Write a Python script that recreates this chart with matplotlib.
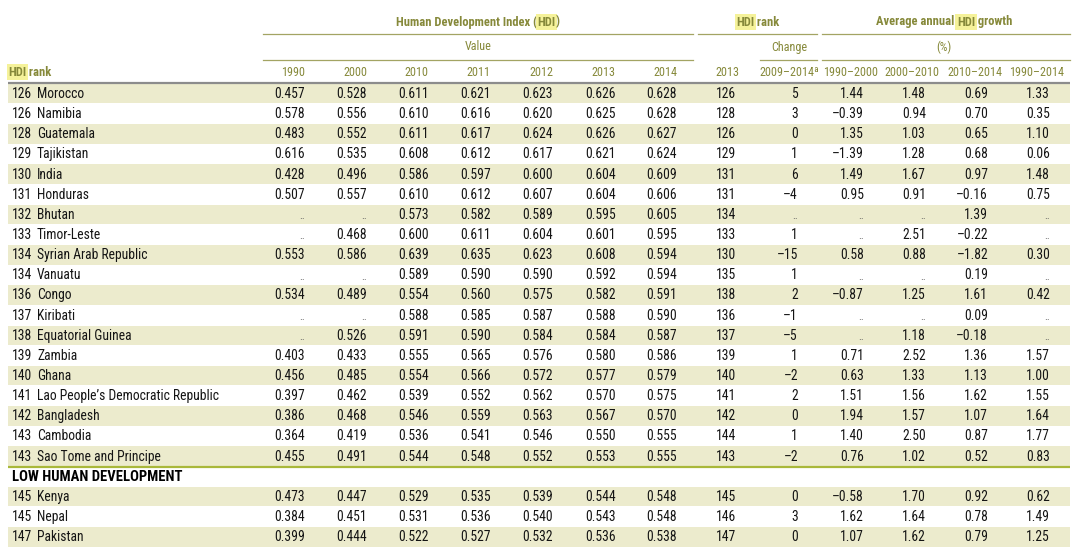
import matplotlib
matplotlib.use('Agg')
import matplotlib.pyplot as plt
from matplotlib import font_manager as fm
from matplotlib.patches import Rectangle

# ---- data ----
ranks = [126, 126, 128, 129, 130, 131, 132, 133, 134, 134, 136, 137, 138, 139, 140,
         141, 142, 143, 143, 145, 145, 147]
countries = ['Morocco', 'Namibia', 'Guatemala', 'Tajikistan', 'India', 'Honduras', 'Bhutan',
             'Timor-Leste', 'Syrian Arab Republic', 'Vanuatu', 'Congo', 'Kiribati',
             'Equatorial Guinea', 'Zambia', 'Ghana', "Lao People\u2019s Democratic Republic",
             'Bangladesh', 'Cambodia', 'Sao Tome and Principe', 'Kenya', 'Nepal', 'Pakistan']
hdi_1990 = [0.457, 0.578, 0.483, 0.616, 0.428, 0.507, None, None, 0.553, None, 0.534, None,
            None, 0.403, 0.456, 0.397, 0.386, 0.364, 0.455, 0.473, 0.384, 0.399]
hdi_2000 = [0.528, 0.556, 0.552, 0.535, 0.496, 0.557, None, 0.468, 0.586, None, 0.489, None,
            0.526, 0.433, 0.485, 0.462, 0.468, 0.419, 0.491, 0.447, 0.451, 0.444]
hdi_2010 = [0.611, 0.610, 0.611, 0.608, 0.586, 0.610, 0.573, 0.600, 0.639, 0.589, 0.554, 0.588,
            0.591, 0.555, 0.554, 0.539, 0.546, 0.536, 0.544, 0.529, 0.531, 0.522]
hdi_2011 = [0.621, 0.616, 0.617, 0.612, 0.597, 0.612, 0.582, 0.611, 0.635, 0.590, 0.560, 0.585,
            0.590, 0.565, 0.566, 0.552, 0.559, 0.541, 0.548, 0.535, 0.536, 0.527]
hdi_2012 = [0.623, 0.620, 0.624, 0.617, 0.600, 0.607, 0.589, 0.604, 0.623, 0.590, 0.575, 0.587,
            0.584, 0.576, 0.572, 0.562, 0.563, 0.546, 0.552, 0.539, 0.540, 0.532]
hdi_2013 = [0.626, 0.625, 0.626, 0.621, 0.604, 0.604, 0.595, 0.601, 0.608, 0.592, 0.582, 0.588,
            0.584, 0.580, 0.577, 0.570, 0.567, 0.550, 0.553, 0.544, 0.543, 0.536]
hdi_2014 = [0.628, 0.628, 0.627, 0.624, 0.609, 0.606, 0.605, 0.595, 0.594, 0.594, 0.591, 0.590,
            0.587, 0.586, 0.579, 0.575, 0.570, 0.555, 0.555, 0.548, 0.548, 0.538]
rank_2013 = [126, 128, 126, 129, 131, 131, 134, 133, 130, 135, 138, 136, 137, 139, 140, 141,
             142, 144, 143, 145, 146, 147]
rank_change = [5, 3, 0, 1, 6, -4, None, 1, -15, 1, 2, -1, -5, 1, -2, 2, 0, 1, -2, 0, 3, 0]
growth_90_00 = [1.44, -0.39, 1.35, -1.39, 1.49, 0.95, None, None, 0.58, None, -0.87, None,
                None, 0.71, 0.63, 1.51, 1.94, 1.40, 0.76, -0.58, 1.62, 1.07]
growth_00_10 = [1.48, 0.94, 1.03, 1.28, 1.67, 0.91, None, 2.51, 0.88, None, 1.25, None,
                1.18, 2.52, 1.33, 1.56, 1.57, 2.50, 1.02, 1.70, 1.64, 1.62]
growth_10_14 = [0.69, 0.70, 0.65, 0.68, 0.97, -0.16, 1.39, -0.22, -1.82, 0.19, 1.61, 0.09,
                -0.18, 1.36, 1.13, 1.62, 1.07, 0.87, 0.52, 0.92, 0.78, 0.79]
growth_90_14 = [1.33, 0.35, 1.10, 0.06, 1.48, 0.75, None, None, 0.30, None, 0.42, None,
                None, 1.57, 1.00, 1.55, 1.64, 1.77, 0.83, 0.62, 1.49, 1.25]
col_labels = ['1990', '2000', '2010', '2011', '2012', '2013', '2014', '2013',
              '2009\u20132014\u00aa', '1990\u20132000', '2000\u20132010', '2010\u20132014',
              '1990\u20132014']
section_label = 'LOW HUMAN DEVELOPMENT'
n_first = 19  # rows before the section heading

# ---- condensed font: first one installed ----
names = {e.name for e in fm.fontManager.ttflist}
fam = 'Liberation Sans'
for n in ['Nimbus Sans Narrow', 'Roboto Condensed', 'PT Sans Narrow', 'Fira Sans Condensed',
          'IBM Plex Sans Condensed', 'Barlow Semi Condensed', 'Archivo Narrow']:
    if n in names:
        fam = n
        break
plt.rcParams['font.family'] = [fam, 'DejaVu Sans']
fs = 9.8
hfs = 8.7  # header size

# ---- layout ----
W, H = 1072, 551
olive = '#86893a'
hl = '#f5f29a'
band = '#ecebcd'
dark = '#141414'
data_right = [305, 367, 429, 491, 553, 616, 677, 736, 798, 864, 926, 988, 1050]
head_center = [293, 355, 416, 478, 541, 603, 665, 727, 789, 851, 912, 975, 1037]
y0, dy = 94, 20.14

fig = plt.figure(figsize=(W / 100, H / 100), dpi=100)
ax = fig.add_axes([0, 0, 1, 1])
ax.set_xlim(0, W)
ax.set_ylim(H, 0)
ax.axis('off')
renderer = fig.canvas.get_renderer()


def rich(x, y, parts, ha='center', size=hfs + 0.3, weight='bold'):
    # parts: list of (text, highlighted)
    objs = []
    for txt, h in parts:
        kw = {}
        if h:
            kw['bbox'] = dict(boxstyle='square,pad=0.12', fc=hl, ec='none')
        t = ax.text(0, y, txt, ha='left', va='center', color=olive, fontsize=size,
                    fontweight=weight, **kw)
        objs.append(t)
    widths = [t.get_window_extent(renderer).width for t in objs]
    total = sum(widths)
    cur = x - total / 2 if ha == 'center' else x
    for t, w in zip(objs, widths):
        t.set_x(cur)
        cur += w


def fmt(v, nd):
    s = f'{v:.{nd}f}' if nd else str(v)
    return s.replace('-', '\u2013')


# group headers
rich(478, 22, [('Human Development Index (', False), ('HDI', True), (')', False)])
rich(758, 22, [('HDI', True), (' rank', False)])
rich(944, 22, [('Average annual ', False), ('HDI', True), (' growth', False)])
rich(8, 72, [('HDI', True), (' rank', False)], ha='left')
rule = '#a3a463'
for xa, xb in [(263, 693), (698, 817), (822, 1070)]:
    ax.plot([xa, xb], [34, 34], color=rule, lw=0.9)
for xa, xb in [(263, 693), (760, 817), (822, 1070)]:
    ax.plot([xa, xb], [60, 60], color=rule, lw=0.9)
ax.text(478, 47, 'Value', ha='center', va='center', color=olive, fontsize=hfs)
ax.text(789, 47, 'Change', ha='center', va='center', color=olive, fontsize=hfs)
ax.text(944, 47, '(%)', ha='center', va='center', color=olive, fontsize=hfs)
for cx, lab in zip(head_center, col_labels):
    ax.text(cx, 72, lab, ha='center', va='center', color=olive, fontsize=hfs)

# body
columns = [(hdi_1990, 3), (hdi_2000, 3), (hdi_2010, 3), (hdi_2011, 3), (hdi_2012, 3),
           (hdi_2013, 3), (hdi_2014, 3), (rank_2013, 0), (rank_change, 0),
           (growth_90_00, 2), (growth_00_10, 2), (growth_10_14, 2), (growth_90_14, 2)]
for i in range(len(countries)):
    slot = i if i < n_first else i + 1
    yc = y0 + slot * dy
    shaded = (i % 2 == 0) if i < n_first else ((i - n_first) % 2 == 0)
    if shaded:
        ax.add_patch(Rectangle((8, yc - dy / 2), 1062, dy - 0.6, fc=band, ec='none', zorder=0))
    ax.text(12, yc, str(ranks[i]), ha='left', va='center', color=dark, fontsize=fs)
    ax.text(37, yc, countries[i], ha='left', va='center', color=dark, fontsize=fs)
    for (vals, nd), xr in zip(columns, data_right):
        v = vals[i]
        if v is None:
            ax.text(xr, yc + 1.5, '..', ha='right', va='center', color='#555555',
                    fontsize=fs - 2)
        else:
            ax.text(xr, yc, fmt(v, nd), ha='right', va='center', color=dark, fontsize=fs)

# section heading
ax.text(12, y0 + n_first * dy, section_label, ha='left', va='center', color='black',
        fontsize=fs + 0.7, fontweight='bold')

# rules
ax.plot([8, 1070], [83, 83], color='#8c8c8c', lw=1.6, solid_capstyle='butt')
ax.plot([8, 1070], [467, 467], color='#a9b83a', lw=1.6, solid_capstyle='butt')

fig.savefig('out.png', dpi=100)
